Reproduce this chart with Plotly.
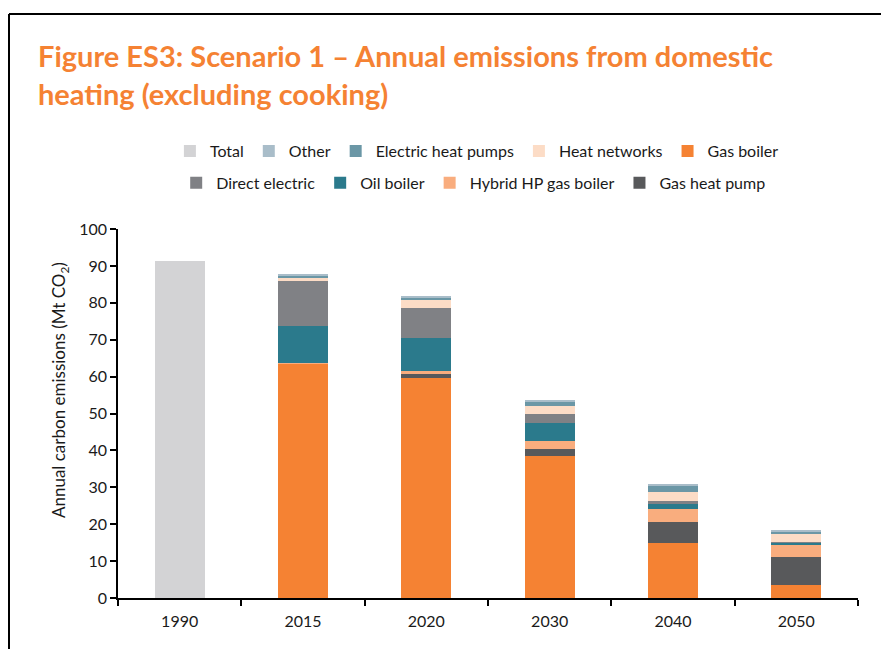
import plotly.graph_objects as go

years = ["1990", "2015", "2020", "2030", "2040", "2050"]

total = [91.3, None, None, None, None, None]
gas_boiler = [None, 63.6, 59.5, 38.6, 15.0, 3.5]
gas_heat_pump = [None, 0.0, 1.3, 1.7, 5.5, 7.6]
hybrid_hp = [None, 0.2, 0.8, 2.3, 3.6, 3.5]
oil_boiler = [None, 10.0, 8.8, 4.7, 1.5, 0.4]
direct_electric = [None, 12.1, 8.3, 2.7, 0.7, 0.2]
heat_networks = [None, 1.0, 2.1, 2.0, 2.4, 2.3]
electric_hp = [None, 0.5, 0.7, 1.2, 1.7, 0.4]
other = [None, 0.4, 0.3, 0.4, 0.3, 0.3]

# stack order bottom -> top, legend row + rank
series = [
    ("Total", total, "#d3d3d5", "legend", 1),
    ("Gas boiler", gas_boiler, "#f58233", "legend", 5),
    ("Gas heat pump", gas_heat_pump, "#58595b", "legend2", 9),
    ("Hybrid HP gas boiler", hybrid_hp, "#f9ad7e", "legend2", 8),
    ("Oil boiler", oil_boiler, "#2b7a8c", "legend2", 7),
    ("Direct electric", direct_electric, "#808185", "legend2", 6),
    ("Heat networks", heat_networks, "#fcdcc6", "legend", 4),
    ("Electric heat pumps", electric_hp, "#6b97a6", "legend", 3),
    ("Other", other, "#a9bdc9", "legend", 2),
]

fig = go.Figure()
for name, vals, color, leg, rank in series:
    fig.add_trace(go.Bar(
        x=years, y=vals, name=name, marker=dict(color=color, line=dict(width=0)),
        legend=leg, legendrank=rank,
    ))

font_family = "Lato, 'Open Sans', sans-serif"
# plot area on the page: x 118..858, y 229..598 (page has an 8px body offset)
fig.update_layout(
    width=889, height=649,
    margin=dict(l=110, r=39, t=221, b=59),
    barmode="stack", bargap=0.595,
    paper_bgcolor="white", plot_bgcolor="white",
    font=dict(family=font_family, size=15, color="#1a1a1a"),
    legend=dict(orientation="h", x=0.485, xanchor="center", y=1.211, yanchor="middle",
                font=dict(size=16), itemwidth=30, traceorder="normal"),
    legend2=dict(orientation="h", x=0.48, xanchor="center", y=1.125, yanchor="middle",
                 font=dict(size=16), itemwidth=30, traceorder="normal"),
    xaxis=dict(showline=True, linecolor="black", linewidth=1.5, ticks="outside",
               tickson="boundaries", ticklen=6, tickcolor="black", tickwidth=1.5,
               ticklabelstandoff=8, tickfont=dict(size=16), showgrid=False),
    yaxis=dict(range=[0, 100], dtick=10, showline=True, linecolor="black", linewidth=1.5,
               ticks="outside", ticklen=6, tickcolor="black", tickwidth=1.5,
               tickfont=dict(size=16), showgrid=False, zeroline=False),
    showlegend=True,
)

fig.add_annotation(
    text="Annual carbon emissions (Mt CO<sub>2</sub>)", textangle=-90,
    xref="paper", yref="paper", x=(60 - 118) / 740, y=(598 - 390) / 369,
    xanchor="center", yanchor="middle",
    showarrow=False, font=dict(size=17),
)

fig.add_annotation(
    text="<b>Figure ES3: Scenario 1 \u2013 Annual emissions from domestic<br>heating (excluding cooking)</b>",
    xref="paper", yref="paper", x=(36 - 118) / 740, y=(598 - 36) / 369,
    xanchor="left", yanchor="top", align="left", showarrow=False,
    font=dict(size=29, color="#f58233", family=font_family),
)

# outer frame (top and left edges)
fx = (9 - 118) / 740
fy = (598 - 14) / 369
fig.add_shape(type="line", xref="paper", yref="paper",
              x0=fx, y0=-0.3, x1=fx, y1=fy,
              line=dict(color="black", width=2))
fig.add_shape(type="line", xref="paper", yref="paper",
              x0=fx, y0=fy, x1=1.1, y1=fy,
              line=dict(color="black", width=2))

fig.write_html("out.html")
